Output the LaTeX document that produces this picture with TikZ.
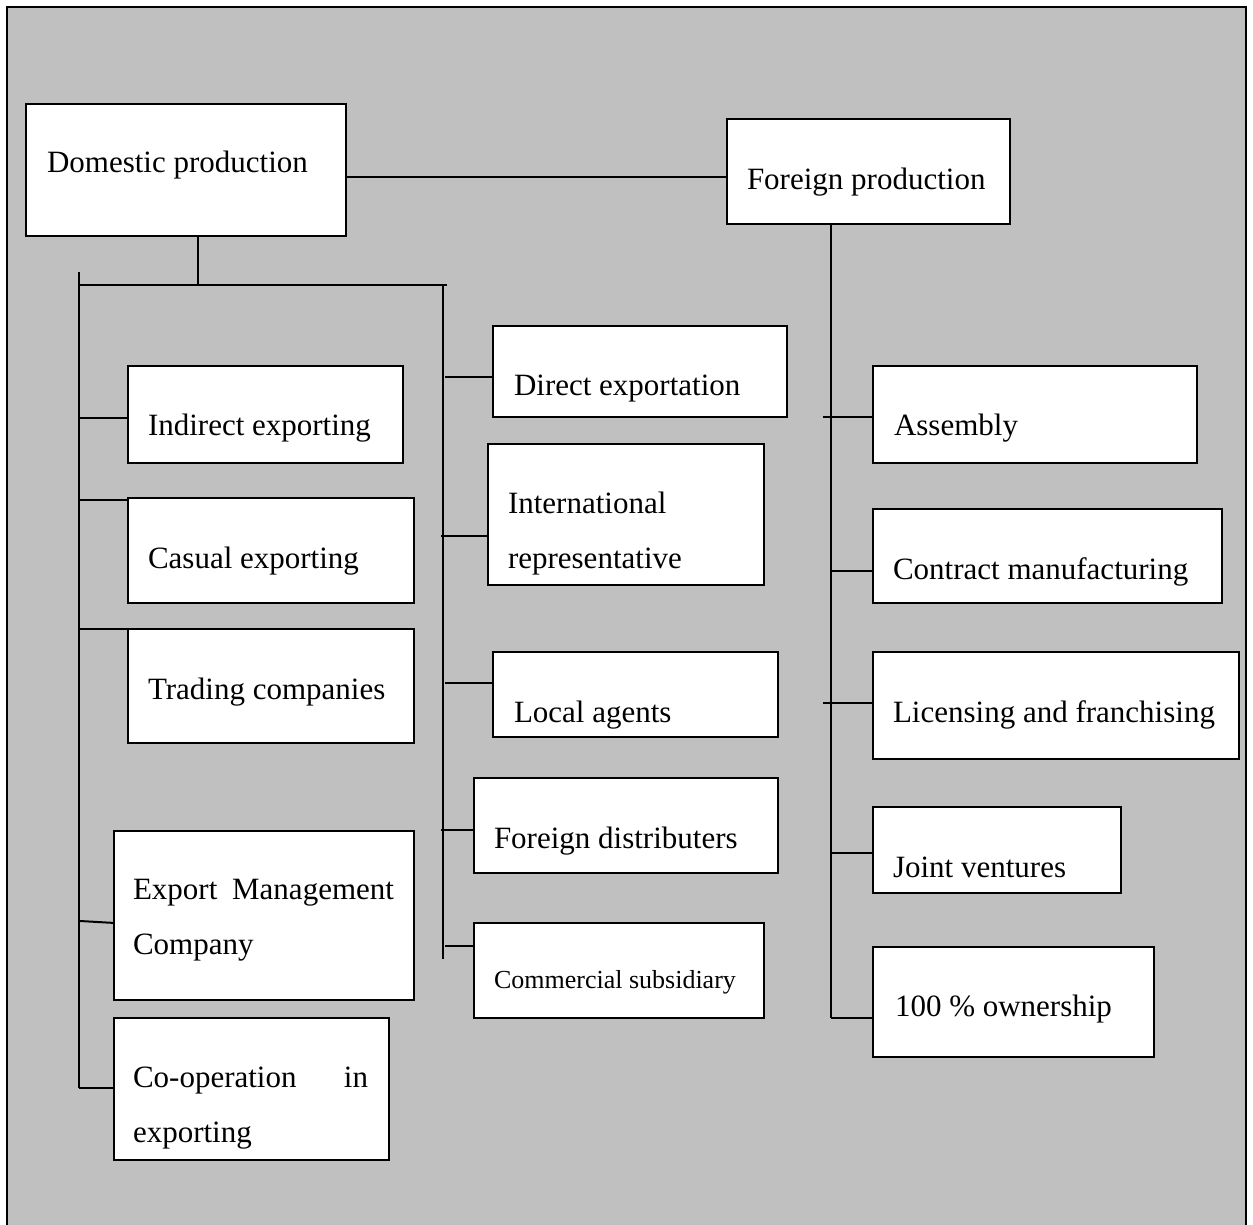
\documentclass[tikz,border=0pt]{standalone}
\usepackage{fontspec}
\setmainfont{Liberation Serif}
\usetikzlibrary{calc,fit}
\definecolor{bg}{RGB}{192,192,192}
\tikzset{
  box/.style={draw, fill=white, line width=2pt, inner sep=0pt, outer sep=0pt},
  conn/.style={line width=2pt},
  lbl/.style={anchor=base west, inner sep=0pt, outer sep=0pt, font=\fontsize{31}{55}\selectfont},
  lblsmall/.style={anchor=base west, inner sep=0pt, outer sep=0pt, font=\fontsize{26}{30}\selectfont},
  frameline/.style={line width=2.5pt}
}
\begin{document}
\begin{tikzpicture}[x=1pt,y=-1pt]
\useasboundingbox (0,0) rectangle (1253,1225);
\fill[white] (0,0) rectangle (1253,1225);
\fill[bg] (7,7) rectangle (1246,1226);
\draw[frameline] (7,1226) -- (7,7) -- (1246,7) -- (1246,1226);

% boxes
\node[box, fit={(26,104) (346,236)}] (dom) {};
\node[box, fit={(727,119) (1010,224)}] (for) {};
\node[box, fit={(128,366) (403,463)}] (ind) {};
\node[box, fit={(128,498) (414,603)}] (cas) {};
\node[box, fit={(128,629) (414,743)}] (tra) {};
\node[box, fit={(114,831) (414,1000)}] (emc) {};
\node[box, fit={(114,1018) (389,1160)}] (coop) {};
\node[box, fit={(493,326) (787,417)}] (dir) {};
\node[box, fit={(488,444) (764,585)}] (intl) {};
\node[box, fit={(493,652) (778,737)}] (loc) {};
\node[box, fit={(474,778) (778,873)}] (fdis) {};
\node[box, fit={(474,923) (764,1018)}] (com) {};
\node[box, fit={(873,366) (1197,463)}] (ass) {};
\node[box, fit={(873,509) (1222,603)}] (con) {};
\node[box, fit={(873,652) (1239,759)}] (lic) {};
\node[box, fit={(873,807) (1121,893)}] (joi) {};
\node[box, fit={(873,947) (1154,1057)}] (own) {};

% labels
\node[lbl] (dom-t) at (47,173) {Domestic production};
\node[lbl] (for-t) at (747,190) {Foreign production};
\node[lbl] (ind-t) at (148,435) {Indirect exporting};
\node[lbl] (cas-t) at (148,568) {Casual exporting};
\node[lbl] (tra-t) at (148,699) {Trading companies};
\node[lbl] (emc-t) at (133,899) {\begin{tabular}[t]{@{}l@{}}\makebox[261pt][s]{Export Management}\\Company\end{tabular}};
\node[lbl] (coop-t) at (133,1087) {\begin{tabular}[t]{@{}l@{}}\makebox[235pt][s]{Co-operation in}\\exporting\end{tabular}};
\node[lbl] (dir-t) at (514,395) {Direct exportation};
\node[lbl] (intl-t) at (508,513) {\begin{tabular}[t]{@{}l@{}}International\\representative\end{tabular}};
\node[lbl] (loc-t) at (514,722) {Local agents};
\node[lbl] (fdis-t) at (494,848) {Foreign distributers};
\node[lblsmall] (com-t) at (494,988) {Commercial subsidiary};
\node[lbl] (ass-t) at (894,435) {Assembly};
\node[lbl] (con-t) at (893,579) {Contract manufacturing};
\node[lbl] (lic-t) at (893,722) {Licensing and franchising};
\node[lbl] (joi-t) at (893,877) {Joint ventures};
\node[lbl] (own-t) at (895,1016) {100 \% ownership};

% spine coordinates
\coordinate (lsTop) at (79,272);
\coordinate (busL) at (79,285);
\coordinate (busR) at (447,285);
\coordinate (msTop) at (443,285);
\coordinate (msBot) at (443,959);

% top connector between productions
\coordinate (dfA) at ($(dom.north east)!0.55!(dom.south east)$);
\draw[conn] (dfA) -- (dfA -| for.west);

% domestic stub and bus
\coordinate (dstub) at ($(dom.south west)!0.5375!(dom.south east)$);
\draw[conn] (dstub) -- (dstub |- busL);
\draw[conn] (busL) -- (busR);

% tee points, left column
\coordinate (indT) at ($(ind.north west)!0.536!(ind.south west)$);
\coordinate (casT) at ($(cas.north west)!0.02!(cas.south west)$);
\coordinate (traT) at (tra.north west);
\coordinate (emcT) at ($(emc.north west)!0.544!(emc.south west)$);
\coordinate (coopT) at ($(coop.north west)!0.493!(coop.south west)$);
\draw[conn] (lsTop) -- (lsTop |- coopT);
\draw[conn] (indT -| lsTop) -- (indT);
\draw[conn] (casT -| lsTop) -- (casT);
\draw[conn] (traT -| lsTop) -- (traT);
\draw[conn] ([yshift=2pt]emcT -| lsTop) -- (emcT);
\draw[conn] (coopT -| lsTop) -- (coopT);

% middle column
\draw[conn] (msTop) -- (msBot);
\coordinate (dirT) at ($(dir.north west)!0.56!(dir.south west)$);
\coordinate (intlT) at ($(intl.north west)!0.65!(intl.south west)$);
\coordinate (locT) at ($(loc.north west)!0.365!(loc.south west)$);
\coordinate (fdisT) at ($(fdis.north west)!0.547!(fdis.south west)$);
\coordinate (comT) at ($(com.north west)!0.242!(com.south west)$);
\draw[conn] ([xshift=2pt]dirT -| msTop) -- (dirT);
\draw[conn] ([xshift=-2pt]intlT -| msTop) -- (intlT);
\draw[conn] ([xshift=2pt]locT -| msTop) -- (locT);
\draw[conn] ([xshift=-2pt]fdisT -| msTop) -- (fdisT);
\draw[conn] ([xshift=2pt]comT -| msTop) -- (comT);

% right column
\coordinate (fsp) at ($(for.south west)!0.367!(for.south east)$);
\coordinate (assT) at ($(ass.north west)!0.526!(ass.south west)$);
\coordinate (conT) at ($(con.north west)!0.66!(con.south west)$);
\coordinate (licT) at ($(lic.north west)!0.477!(lic.south west)$);
\coordinate (joiT) at ($(joi.north west)!0.535!(joi.south west)$);
\coordinate (ownT) at ($(own.north west)!0.645!(own.south west)$);
\draw[conn] (fsp) -- (fsp |- ownT);
\draw[conn] ([xshift=-8pt]assT -| fsp) -- (assT);
\draw[conn] (conT -| fsp) -- (conT);
\draw[conn] ([xshift=-8pt]licT -| fsp) -- (licT);
\draw[conn] (joiT -| fsp) -- (joiT);
\draw[conn] (ownT -| fsp) -- (ownT);
\end{tikzpicture}
\end{document}
